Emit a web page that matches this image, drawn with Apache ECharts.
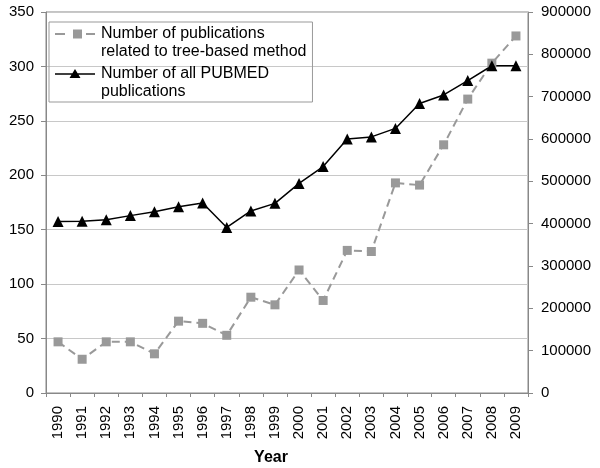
<!DOCTYPE html>
<html>
<head>
<meta charset="utf-8">
<script src="https://cdn.jsdelivr.net/npm/echarts@6/dist/echarts.min.js"></script>
<style>
  html, body { margin: 0; padding: 0; background: #fff; }
  #chart { width: 600px; height: 468px; }
</style>
</head>
<body>
<div id="chart"></div>
<script>
// years on the x axis
var years = ["1990", "1991", "1992", "1993", "1994", "1995", "1996", "1997", "1998", "1999",
  "2000", "2001", "2002", "2003", "2004", "2005", "2006", "2007", "2008", "2009"];
// publications related to tree-based method (left axis)
var treeBased = [47, 31, 47, 47, 36, 66, 64, 53, 88, 81,
  113, 85, 131, 130, 193, 191, 228, 270, 303, 328];
// all PUBMED publications (right axis)
var pubmedAll = [405000, 406000, 409000, 419000, 428000, 440000, 449000, 391000, 430000, 448000,
  495000, 535000, 600000, 605000, 625000, 684000, 704000, 738000, 773000, 773000];

// legend icons sit level with the first text line, so they are drawn in the top part of a 40x36 box
var treeIcon = "path://M0,0 M40,36 M0,8 L10,8 L10,10 L0,10 Z M18,4.5 L27,4.5 L27,13.5 L18,13.5 Z M31,8 L40,8 L40,10 L31,10 Z";
var pubmedIcon = "path://M0,0 M40,36 M0,8.3 L40,8.3 L40,9.7 L0,9.7 Z M20,4 L25.5,13 L14.5,13 Z";

var font = "Liberation Sans, Arial, sans-serif";
var chart = echarts.init(document.getElementById("chart"));
chart.setOption({
  animation: false,
  textStyle: { fontFamily: font },
  grid: {
    left: 46,
    right: 72,
    top: 12,
    bottom: 75,
    outerBoundsMode: "none",
    show: true,
    borderColor: "#888",
    borderWidth: 1
  },
  legend: {
    left: 49,
    top: 22,
    orient: "vertical",
    borderColor: "#999",
    borderWidth: 1,
    padding: [3, 6, 1, 6],
    itemGap: 4,
    itemWidth: 42,
    itemHeight: 36,
    textStyle: { fontSize: 16, color: "#000", lineHeight: 18, fontFamily: font },
    formatter: function (name) {
      return name == "tree"
        ? "Number of publications\nrelated to tree-based method"
        : "Number of all PUBMED\npublications";
    },
    data: [
      { name: "tree", icon: treeIcon },
      { name: "pubmed", icon: pubmedIcon }
    ]
  },
  xAxis: {
    type: "category",
    data: years,
    boundaryGap: true,
    name: "Year",
    nameLocation: "middle",
    nameGap: 57,
    nameTextStyle: { fontSize: 16, fontWeight: "bold", color: "#000", padding: [0, 32, 0, 0] },
    axisLine: { lineStyle: { color: "#888" } },
    axisTick: { show: true, alignWithLabel: false, length: 4, lineStyle: { color: "#888" } },
    axisLabel: { rotate: 90, fontSize: 15, color: "#000", margin: 13, interval: 0 }
  },
  yAxis: [
    {
      type: "value",
      min: 0,
      max: 350,
      interval: 50,
      axisLine: { show: true, lineStyle: { color: "#888" } },
      axisTick: { show: true, inside: false, length: 5, lineStyle: { color: "#888" } },
      axisLabel: { fontSize: 15, color: "#000", margin: 12 },
      splitLine: { show: true, lineStyle: { color: "#c8c8c8" } }
    },
    {
      type: "value",
      min: 0,
      max: 900000,
      interval: 100000,
      position: "right",
      axisLine: { show: true, lineStyle: { color: "#888" } },
      axisTick: { show: true, length: 5, lineStyle: { color: "#888" } },
      axisLabel: { fontSize: 15, color: "#000", margin: 13, formatter: function (v) { return String(v); } },
      splitLine: { show: false }
    }
  ],
  series: [
    {
      name: "tree",
      type: "line",
      yAxisIndex: 0,
      data: treeBased,
      symbol: "rect",
      symbolSize: 9,
      itemStyle: { color: "#999" },
      lineStyle: { color: "#999", width: 2, type: [8, 5] }
    },
    {
      name: "pubmed",
      type: "line",
      yAxisIndex: 1,
      data: pubmedAll,
      symbol: "triangle",
      symbolSize: 11,
      itemStyle: { color: "#000" },
      lineStyle: { color: "#000", width: 1.5 }
    }
  ]
});
</script>
</body>
</html>
